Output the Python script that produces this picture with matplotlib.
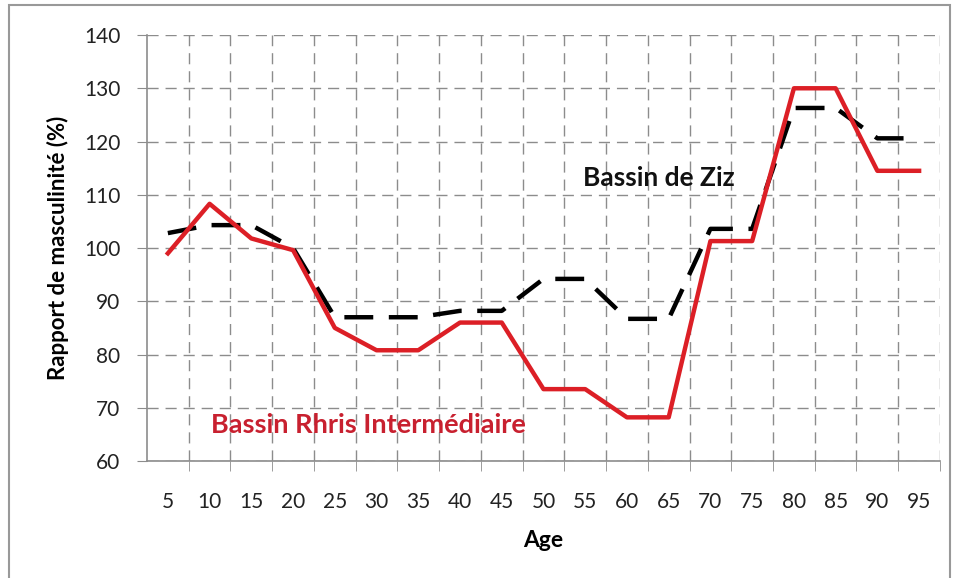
import numpy as np
from matplotlib import pyplot as plt
from matplotlib.patches import Rectangle

ages = [5, 10, 15, 20, 25, 30, 35, 40, 45, 50, 55, 60, 65, 70, 75, 80, 85, 90, 95]
rhris = [99, 108.3, 101.8, 99.6, 85, 80.8, 80.8, 86, 86, 73.5, 73.5, 68.2, 68.2,
         101.3, 101.3, 130, 130, 114.5, 114.5]
ziz = [102.8, 104.3, 104.3, 100, 87, 87, 87, 88.2, 88.2, 94.2, 94.2, 86.7, 86.7,
       103.6, 103.6, 126.3, 126.3, 120.6, 120.6]

plt.rcParams['font.family'] = ['Lato', 'DejaVu Sans']

fig = plt.figure(figsize=(9.57, 5.78), dpi=100)
ax = fig.add_axes([0.1536, 0.2024, 0.8286, 0.737])

x = np.arange(1, len(ages) + 1)
ax.plot(x, ziz, color='black', lw=3.2, dashes=(6.5, 3.5), solid_capstyle='butt', zorder=3)
ax.plot(x, rhris, color='#dc1f26', lw=3.2, zorder=4)

ax.set_xlim(0.5, len(ages) + 0.5)
ax.set_ylim(60, 140)
ax.set_yticks(range(60, 141, 10))
ax.set_xticks(x)
ax.set_xticklabels([str(a) for a in ages])
ax.set_xticks(np.arange(1.5, len(ages) + 0.6, 1), minor=True)

gc = '#8c8c8c'
ax.grid(True, axis='y', which='major', color=gc, ls=(0, (8, 5)), lw=1)
ax.grid(True, axis='x', which='minor', color=gc, ls=(0, (8, 5)), lw=1)
ax.tick_params(axis='x', which='major', length=0, pad=22, labelsize=15, labelcolor='#222222')
ax.tick_params(axis='x', which='minor', length=7, color=gc, direction='out')
ax.tick_params(axis='y', which='major', length=7, color=gc, direction='out',
               labelsize=15, labelcolor='#222222', pad=12)

for s in ['top', 'right']:
    ax.spines[s].set_visible(False)
for s in ['left', 'bottom']:
    ax.spines[s].set_color(gc)
    ax.spines[s].set_linewidth(1.2)

ax.set_xlabel('Age', fontsize=16.5, fontweight='bold', labelpad=13)
ax.set_ylabel('Rapport de masculinité (%)', fontsize=16, fontweight='bold', labelpad=11)

ax.text(0.645, 0.665, 'Bassin de Ziz', transform=ax.transAxes, fontsize=19,
        fontweight='bold', color='#111111', ha='center', va='center')
ax.text(0.279, 0.084, 'Bassin Rhris Intermédiaire', transform=ax.transAxes, fontsize=19.5,
        fontweight='bold', color='#c8202f', ha='center', va='center')

fig.patches.append(Rectangle((9 / 957, -0.01), 941 / 957, 1 - 5 / 578 + 0.01,
                             transform=fig.transFigure, fill=False,
                             edgecolor='#999999', lw=1.5))

fig.savefig('out.png', dpi=100)
